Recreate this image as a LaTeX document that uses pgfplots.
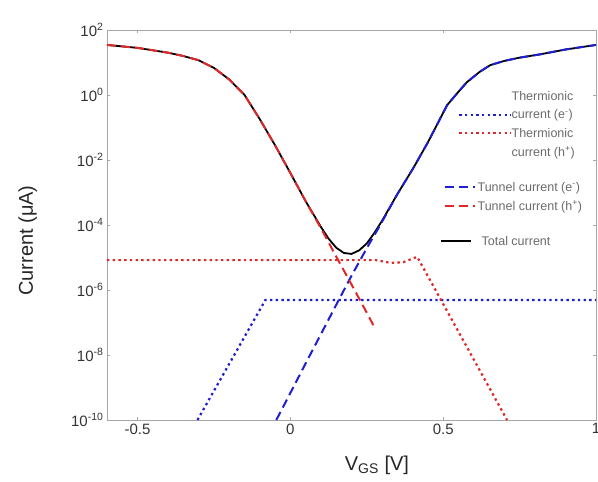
\documentclass[border=0pt]{standalone}
\usepackage{pgfplots}
\pgfplotsset{compat=1.18}
\usepackage{fontspec}
\setmainfont{Liberation Sans}
\definecolor{myblue}{RGB}{30,30,210}
\definecolor{myred}{RGB}{225,40,40}
\tikzset{
  thermo/.style={dash pattern=on 2.4pt off 3.3pt, line width=2.2pt},
  tunnel/.style={dash pattern=on 9pt off 5pt, line width=2pt},
}
\begin{document}
\begin{tikzpicture}
\begin{axis}[
  scale only axis,
  width=489pt, height=390pt,
  xmin=-0.6, xmax=1,
  ymode=log, ymin=1e-10, ymax=1e2,
  xtick={-0.5,0,0.5,1}, xticklabels={-0.5,0,0.5,1},
  ytick={1e-10,1e-8,1e-6,1e-4,1e-2,1,1e2},
  yticklabels={10\textsuperscript{-10},10\textsuperscript{-8},10\textsuperscript{-6},10\textsuperscript{-4},10\textsuperscript{-2},10\textsuperscript{0},10\textsuperscript{2}},
  yminorticks=false, xminorticks=false,
  tick align=inside, major tick length=3pt,
  axis line style={gray!70},
  every tick/.style={gray!70},
  tick label style={font=\fontsize{15}{16}\selectfont, text=black!80},
  xlabel={V\textsubscript{GS} [V]},
  ylabel={Current (μA)},
  label style={font=\fontsize{20}{24}\selectfont, text=black!85},
  xlabel style={at={(axis description cs:0.552,-0.115)}, anchor=center},
  ylabel style={at={(axis description cs:-0.162,0.46)}, anchor=center},
  legend style={at={(axis description cs:0.681,0.848)}, anchor=north west, draw=none, fill=none,
    inner sep=0pt, font=\fontsize{12.5}{15}\selectfont, text=black!58, row sep=5pt,
    nodes={inner sep=1.5pt}},
  legend cell align=left,
]
% Thermionic current (e-)
\addplot[myblue, thermo, forget plot]
  coordinates {(-0.304,1e-10) (-0.082,4.9e-7) (1.0,4.9e-7)};
% Thermionic current (h+)
\addplot[myred, thermo, forget plot]
  coordinates {(-0.6,8.3e-6) (0.28,8.3e-6) (0.33,6.8e-6) (0.37,7.2e-6) (0.415,1.05e-5) (0.709,1e-10)};
% Total current
\addplot[black, solid, line width=1.8pt, forget plot] coordinates {
(-0.6,34.7) (-0.5,28.2) (-0.4,20.0) (-0.35,15.8) (-0.3,11.7) (-0.25,6.8) (-0.2,3.0)
(-0.15,1.0) (-0.1,0.18) (-0.05,2.82e-2) (0,3.98e-3) (0.05,5.37e-4) (0.1,8.7e-5)
(0.125,3.8e-5) (0.15,2.0e-5) (0.175,1.38e-5) (0.2,1.29e-5) (0.225,1.66e-5)
(0.25,2.7e-5) (0.275,5.75e-5) (0.3,1.35e-4) (0.35,8.9e-4) (0.402,5.6e-3) (0.45,3.5e-2)
(0.513,0.49) (0.55,1.26) (0.578,2.5) (0.62,5.2) (0.654,8.3) (0.7,11.2) (0.75,14.1)
(0.817,17.8) (0.9,25.1) (1.0,34.7)};
% Tunnel current (e-)
\addplot[myblue, tunnel, forget plot]
  coordinates {
(-0.046,1e-10) (0.0,6.8e-10) (0.056,7.1e-9) (0.1,4.4e-8) (0.15,3.5e-7) (0.196,2.34e-6)
(0.252,2.09e-5) (0.294,1e-4) (0.35,8.9e-4) (0.402,5.6e-3) (0.45,3.5e-2) (0.513,0.49)
(0.55,1.26) (0.578,2.5) (0.62,5.2) (0.654,8.3) (0.7,11.2) (0.75,14.1) (0.817,17.8)
(0.9,25.1) (1.0,34.7)};
% Tunnel current (h+)
\addplot[myred, tunnel, forget plot]
  coordinates {
(-0.6,34.7) (-0.5,28.2) (-0.4,20.0) (-0.35,15.8) (-0.3,11.7) (-0.25,6.8) (-0.2,3.0)
(-0.15,1.0) (-0.1,0.18) (-0.05,2.82e-2) (0,3.98e-3) (0.05,5.37e-4) (0.1,7.94e-5)
(0.15,1.07e-5) (0.2,1.48e-6) (0.25,2.0e-7) (0.278,6.3e-8)};
% ---- legend ----
\addlegendimage{empty legend}\addlegendentry{\hspace{34pt}Thermionic}
\addlegendimage{legend image code/.code={\path[draw=none] (0pt,0pt) -- (34pt,0pt);\draw[myblue, thermo, overlay] (18pt,0pt) -- (70pt,0pt);}}
\addlegendentry{\hspace{34pt}current (e\textsuperscript{-})}
\addlegendimage{legend image code/.code={\path[draw=none] (0pt,0pt) -- (34pt,0pt);\draw[myred, thermo, overlay] (18pt,0pt) -- (70pt,0pt);}}
\addlegendentry{\hspace{34pt}Thermionic}
\addlegendimage{empty legend}\addlegendentry{\hspace{34pt}current (h\textsuperscript{+})}
\addlegendimage{empty legend}\addlegendentry{\rule{0pt}{7pt}}
\addlegendimage{legend image code/.code={\draw[myblue, tunnel] (4pt,0pt) -- (34pt,0pt);}}
\addlegendentry{Tunnel current (e\textsuperscript{-})}
\addlegendimage{legend image code/.code={\draw[myred, tunnel] (4pt,0pt) -- (34pt,0pt);}}
\addlegendentry{Tunnel current (h\textsuperscript{+})}
\addlegendimage{empty legend}\addlegendentry{\rule{0pt}{7pt}}
\addlegendimage{legend image code/.code={\draw[black, line width=1.8pt] (0pt,0pt) -- (30pt,0pt);}}
\addlegendentry{\hspace{4pt}Total current}
\end{axis}
\pgfresetboundingbox
\path ([shift={(-107pt,-61pt)}]current axis.south west) rectangle ([shift={(2pt,30pt)}]current axis.north east);
\end{tikzpicture}
\end{document}
